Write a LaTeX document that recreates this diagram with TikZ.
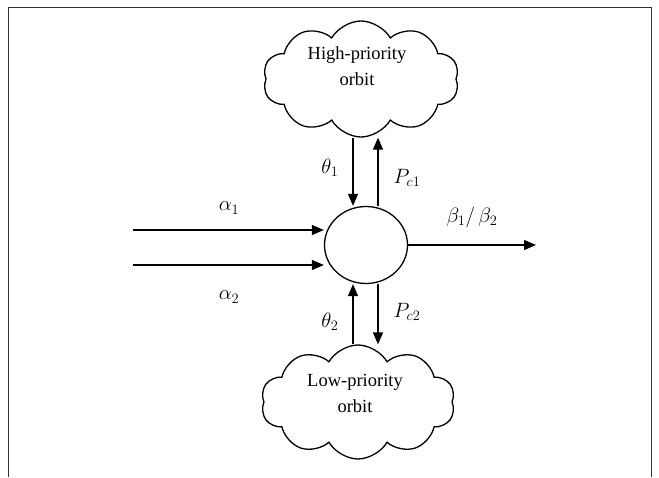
\documentclass[tikz,border=0pt]{standalone}
\usepackage{fontspec}
\setmainfont{Liberation Serif}
\usetikzlibrary{shapes.symbols,shapes.geometric,arrows.meta}
\begin{document}
\begin{tikzpicture}[x=1pt,y=-1pt,
 arr/.style={line width=1.3pt,-{Triangle[length=12pt,width=10pt]}},
 cloudbox/.style={cloud, cloud puffs=10, cloud puff arc=120, cloud ignores aspect, draw, line width=1.3pt, inner sep=0pt},
 lbl/.style={font=\fontsize{18.5}{26}\selectfont, align=center},
 mlbl/.style={font=\fontsize{21}{24}\selectfont}]
\useasboundingbox (0,0) rectangle (659,477);
\draw[line width=1pt, black!80] (8,477) -- (8,7) -- (651,7) -- (651,477);
\node[cloudbox, minimum width=196pt, minimum height=116pt] (hpc) at (361,79) {};
\node[lbl] (hpt) at (357,66) {High-priority\\orbit};
\node[cloudbox, minimum width=194pt, minimum height=114pt] (lpc) at (358,402) {};
\node[lbl] (lpt) at (355,393) {Low-priority\\orbit};
\node[draw, ellipse, line width=1.3pt, minimum width=83pt, minimum height=77pt, inner sep=0pt] (circ) at (366,245) {};
\coordinate (a1s) at (133,230);
\coordinate (a2s) at (133,265);
\coordinate (outp) at (536,244);
\coordinate (xl) at (353,0);
\coordinate (xr) at (378,0);
\draw[arr] (a1s) -- (a1s -| circ.west);
\draw[arr] (a2s) -- (a2s -| circ.west);
\draw[arr] (circ.east) -- (circ.east -| outp);
\draw[arr] (hpc.south -| xl) -- (circ.north -| xl);
\draw[arr] (circ.north -| xr) -- (hpc.south -| xr);
\draw[arr] (lpc.north -| xl) -- (circ.south -| xl);
\draw[arr] (circ.south -| xr) -- (lpc.north -| xr);
\node[mlbl] (th1) at (330,168) {$\theta_1$};
\node[mlbl] (pc1) at (407,178) {$P_{c1}$};
\node[mlbl] (th2) at (330,322) {$\theta_2$};
\node[mlbl] (pc2) at (407,312) {$P_{c2}$};
\node[mlbl] (al1) at (229,208) {$\alpha_1$};
\node[mlbl] (al2) at (229,297) {$\alpha_2$};
\node[mlbl] (bet) at (472,217) {$\beta_1/\,\beta_2$};
\end{tikzpicture}
\end{document}
